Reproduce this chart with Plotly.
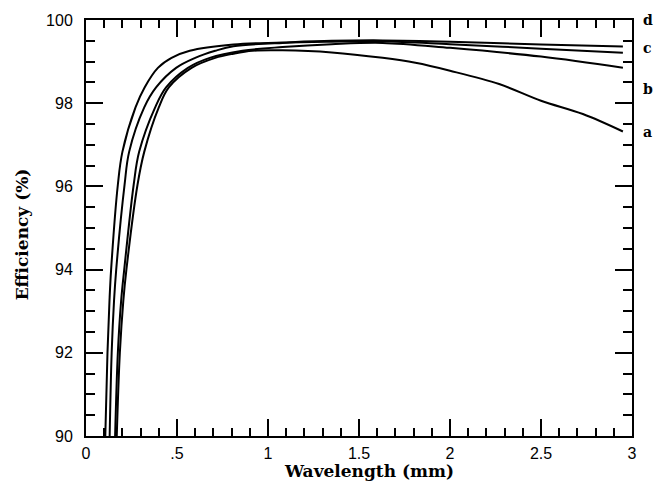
import plotly.graph_objects as go

# Wavelength (mm) / Efficiency (%)
lam_d = [0.106, 0.118, 0.129, 0.138, 0.175, 0.200, 0.272, 0.322, 0.395, 0.47, 0.57, 0.81, 1.08, 1.35, 1.63, 2.0, 2.5, 2.95]
eff_d = [90.0, 92.0, 93.25, 94.0, 96.04, 96.83, 97.9, 98.38, 98.85, 99.09, 99.26, 99.41, 99.46, 99.5, 99.51, 99.48, 99.41, 99.36]

lam_c = [0.130, 0.141, 0.154, 0.166, 0.212, 0.237, 0.320, 0.385, 0.495, 0.60, 0.71, 0.81, 1.08, 1.35, 1.63, 2.0, 2.5, 2.95]
eff_c = [90.0, 92.0, 93.25, 94.0, 96.04, 96.83, 97.9, 98.38, 98.85, 99.09, 99.26, 99.37, 99.45, 99.48, 99.49, 99.42, 99.31, 99.21]

lam_b = [0.160, 0.175, 0.193, 0.210, 0.262, 0.292, 0.380, 0.44, 0.56, 0.68, 0.86, 1.08, 1.35, 1.63, 2.0, 2.5, 2.95]
eff_b = [90.0, 92.0, 93.25, 94.0, 96.04, 96.83, 97.9, 98.38, 98.85, 99.09, 99.26, 99.35, 99.42, 99.45, 99.33, 99.12, 98.85]

lam_a = [0.169, 0.186, 0.205, 0.222, 0.283, 0.320, 0.40, 0.455, 0.58, 0.71, 0.81, 0.915, 1.08, 1.35, 1.63, 1.81, 2.0, 2.27, 2.5, 2.73, 2.95]
eff_a = [90.0, 92.0, 93.25, 94.0, 96.04, 96.83, 97.9, 98.38, 98.85, 99.09, 99.19, 99.26, 99.27, 99.22, 99.09, 98.97, 98.78, 98.46, 98.06, 97.74, 97.32]

curve_names = ["a", "b", "c", "d"]
label_y = [97.3, 98.35, 99.33, 100.0]

x_tickvals = [0, 0.5, 1, 1.5, 2, 2.5, 3]
x_ticktext = ["0", ".5", "1", "1.5", "2", "2.5", "3"]
y_tickvals = [90, 92, 94, 96, 98, 100]

series = [(lam_a, eff_a), (lam_b, eff_b), (lam_c, eff_c), (lam_d, eff_d)]

fig = go.Figure()
for name, (xs, ys) in zip(curve_names, series):
    fig.add_trace(go.Scatter(x=xs, y=ys, mode="lines", name=name,
                             line=dict(color="black", width=2, shape="spline", smoothing=1.0),
                             showlegend=False, cliponaxis=True))

tick_font = dict(family="Liberation Sans, Arial, sans-serif", size=16, color="black")
title_font = dict(family="DejaVu Serif, serif", size=17, color="black", weight="bold")

fig.update_xaxes(range=[0, 3], tickmode="array", tickvals=x_tickvals, ticktext=x_ticktext,
                 ticks="inside", ticklen=17, tickwidth=1.5, tickcolor="black",
                 minor=dict(ticks="inside", dtick=0.1, ticklen=8, tickwidth=1.5, tickcolor="black"),
                 showline=True, linecolor="black", linewidth=2, mirror="allticks",
                 showgrid=False, zeroline=False, tickfont=tick_font, ticklabelstandoff=2)
fig.update_yaxes(range=[90, 100], tickmode="array", tickvals=y_tickvals,
                 ticks="inside", ticklen=17, tickwidth=1.5, tickcolor="black",
                 minor=dict(ticks="inside", dtick=0.5, ticklen=9, tickwidth=1.5, tickcolor="black"),
                 showline=True, linecolor="black", linewidth=2, mirror="allticks",
                 showgrid=False, zeroline=False, tickfont=tick_font, ticklabelstandoff=8)

annotations = []
for name, yv in zip(curve_names, label_y):
    annotations.append(dict(x=1.029, xref="paper", y=yv, yref="y", text=name, showarrow=False,
                            xanchor="center", yanchor="middle",
                            font=dict(family="DejaVu Serif, serif", size=14, color="black", weight="bold")))
annotations.append(dict(x=0.518, xref="paper", y=-0.083, yref="paper", text="Wavelength (mm)",
                        showarrow=False, xanchor="center", yanchor="middle", font=title_font))
annotations.append(dict(x=-0.117, xref="paper", y=0.485, yref="paper", text="Efficiency (%)",
                        showarrow=False, xanchor="center", yanchor="middle", textangle=-90,
                        font=title_font))

fig.update_layout(width=657, height=484, margin=dict(l=86, r=25, t=17, b=48),
                  paper_bgcolor="white", plot_bgcolor="white", annotations=annotations)

fig.write_html("out.html", config={"displayModeBar": False},
               post_script="document.body.style.margin='0px';")
